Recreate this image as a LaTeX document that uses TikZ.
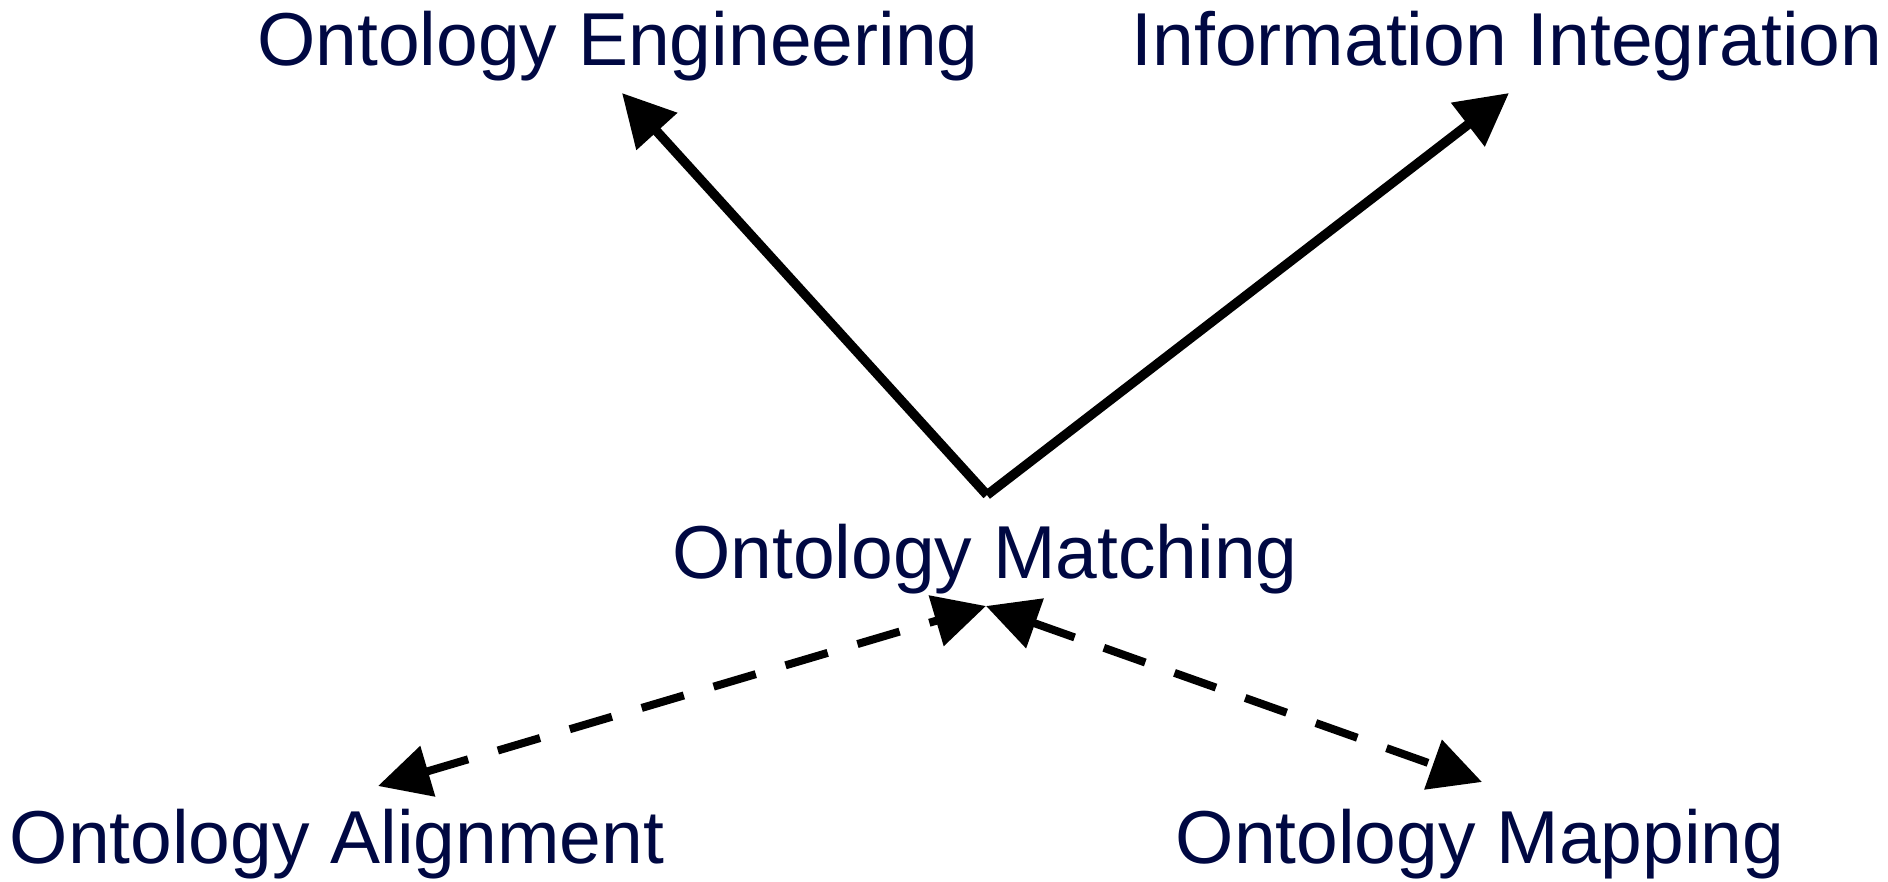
\documentclass[tikz,border=0pt]{standalone}
\usepackage{fontspec}
\setmainfont{Liberation Sans}
\usetikzlibrary{arrows.meta}
\definecolor{navy}{RGB}{0,8,66}
\begin{document}
\begin{tikzpicture}[x=1pt,y=-1pt,
  lbl/.style={anchor=base,inner sep=0pt,text=navy,font=\fontsize{75}{90}\selectfont},
  solidarrow/.style={line width=9.5pt,-{Triangle[length=52pt,width=53pt]}},
  dasharrow/.style={line width=8pt,dash pattern=on 44pt off 31pt,
    {Triangle[length=52pt,width=51pt]}-{Triangle[length=52pt,width=51pt]}}]
\useasboundingbox (0,0) rectangle (1888,882);
\node[lbl] (oe) at (618,66) {Ontology Engineering};
\node[lbl] (ii) at (1507,66) {Information Integration};
\node[lbl] (om) at (985,578) {Ontology Matching};
\node[lbl] (oa) at (337,863) {Ontology Alignment};
\node[lbl] (omap) at (1480,863) {Ontology Mapping};
\coordinate (apex) at (987,495);
\coordinate (oetip) at (622,93);
\coordinate (iitip) at (1509,93);
\coordinate (omtip) at (986,606);
\coordinate (oatip) at (378,786);
\coordinate (omaptip) at (1482,782);
\draw[solidarrow] (apex) -- (oetip);
\draw[solidarrow] (apex) -- (iitip);
\draw[dasharrow] (oatip) -- (omtip);
\draw[dasharrow] (omtip) -- (omaptip);
\end{tikzpicture}
\end{document}
